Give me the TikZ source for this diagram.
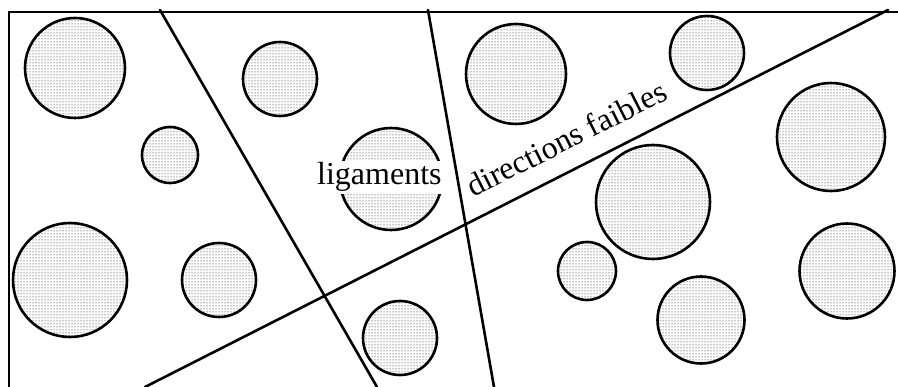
\documentclass[tikz,border=0pt]{standalone}
\usepackage{fontspec}
\setmainfont{Liberation Serif}
\usetikzlibrary{patterns}
\tikzset{
  grain/.style={circle, draw=black, line width=2.6pt, pattern=dots, pattern color=black, minimum size=#1, inner sep=0pt},
  frameline/.style={line width=2.6pt, line cap=butt},
  cutline/.style={line width=2.6pt, line cap=round},
  lbl/.style={font=\fontsize{32pt}{34pt}\selectfont, inner sep=0pt}
}
\begin{document}
\begin{tikzpicture}[x=1pt, y=-1pt]
\useasboundingbox (0,0) rectangle (898,387);
% frame
\coordinate (f0) at (9,387);
\coordinate (f1) at (9,12);
\coordinate (f2) at (898,12);
\draw[frameline] (f0) -- (f1) -- (f2);
% grains
\node[grain=100pt] (c1) at (75,68) {};
\node[grain=56pt] (c2) at (170,155) {};
\node[grain=74pt] (c3) at (280,79) {};
\node[grain=102pt] (c4) at (391,179) {};
\node[grain=100pt] (c5) at (516,74) {};
\node[grain=74pt] (c6) at (707,53) {};
\node[grain=108pt] (c7) at (831,137) {};
\node[grain=114pt] (c8) at (653,202) {};
\node[grain=114pt] (c9) at (70,280) {};
\node[grain=74pt] (c10) at (219,280) {};
\node[grain=74pt] (c11) at (400,338) {};
\node[grain=58pt] (c12) at (587,271) {};
\node[grain=87pt] (c13) at (701,320) {};
\node[grain=95pt] (c14) at (847,271) {};
% cut lines
\coordinate (a0) at (160,10);
\coordinate (a1) at (377,387);
\coordinate (b0) at (428,10);
\coordinate (b1) at (494,387);
\coordinate (d0) at (888,10);
\coordinate (d1) at (145,387);
\draw[cutline] (a0) -- (a1);
\draw[cutline] (b0) -- (b1);
\draw[cutline] (d0) -- (d1);
% labels
\node[lbl, fill=white, inner xsep=3.5pt, inner ysep=2pt, anchor=base west] (lig) at (313.5,185) {ligaments};
\node[lbl, anchor=base west, rotate=26.8] (dir) at (473,198) {directions faibles};
\end{tikzpicture}
\end{document}
